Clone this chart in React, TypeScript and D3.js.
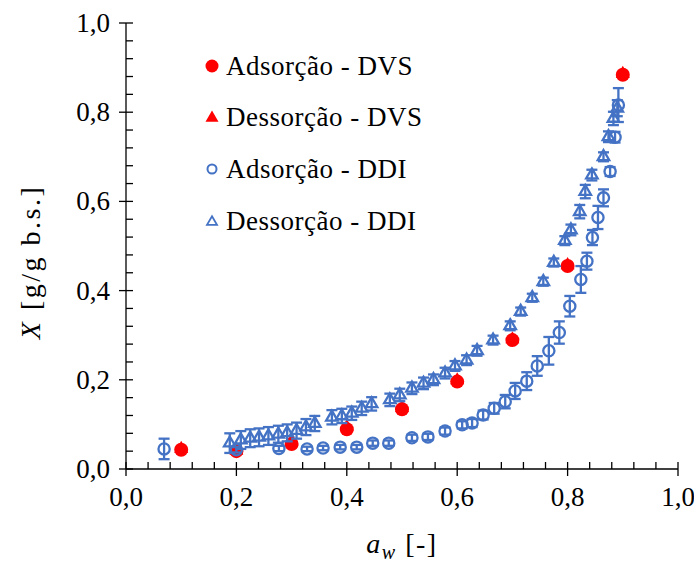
import React from "react";
import * as d3 from "d3";

const dvsAw = [0.1, 0.2, 0.3, 0.4, 0.5, 0.6, 0.7, 0.8, 0.9];
const dvsAdsX = [0.043, 0.040, 0.056, 0.089, 0.134, 0.196, 0.289, 0.455, 0.884];
const dvsDesX = [0.045, 0.041, 0.062, 0.094, 0.137, 0.199, 0.291, 0.457, 0.886];

const ddiAdsAw = [0.069, 0.2, 0.277, 0.328, 0.357, 0.388, 0.418, 0.447, 0.476, 0.518, 0.547, 0.578, 0.609, 0.627, 0.647, 0.667, 0.687, 0.705, 0.726, 0.745, 0.766, 0.785, 0.804, 0.824, 0.835, 0.845, 0.855, 0.865, 0.877, 0.886, 0.892];
const ddiAdsX = [0.045, 0.043, 0.046, 0.045, 0.047, 0.049, 0.049, 0.058, 0.058, 0.070, 0.072, 0.085, 0.099, 0.103, 0.121, 0.136, 0.151, 0.175, 0.197, 0.231, 0.265, 0.306, 0.365, 0.425, 0.466, 0.519, 0.564, 0.608, 0.667, 0.744, 0.816];
const ddiAdsErr = [0.023, 0.006, 0.006, 0.005, 0.005, 0.005, 0.005, 0.006, 0.006, 0.007, 0.007, 0.008, 0.008, 0.009, 0.010, 0.012, 0.015, 0.018, 0.020, 0.022, 0.031, 0.025, 0.023, 0.030, 0.019, 0.017, 0.026, 0.019, 0.010, 0.012, 0.038];

const ddiDesAw = [0.188, 0.208, 0.225, 0.241, 0.258, 0.276, 0.292, 0.309, 0.326, 0.342, 0.373, 0.391, 0.409, 0.427, 0.445, 0.478, 0.496, 0.518, 0.539, 0.557, 0.578, 0.596, 0.617, 0.636, 0.665, 0.696, 0.715, 0.736, 0.756, 0.775, 0.795, 0.806, 0.822, 0.832, 0.844, 0.865, 0.874, 0.883, 0.890];
const ddiDesX = [0.058, 0.065, 0.069, 0.071, 0.074, 0.078, 0.081, 0.086, 0.094, 0.102, 0.116, 0.119, 0.125, 0.136, 0.146, 0.155, 0.166, 0.181, 0.192, 0.200, 0.215, 0.231, 0.244, 0.265, 0.289, 0.321, 0.353, 0.384, 0.420, 0.463, 0.512, 0.536, 0.577, 0.622, 0.659, 0.700, 0.745, 0.786, 0.809];
const ddiDesErr = [0.022, 0.02, 0.02, 0.02, 0.02, 0.019, 0.019, 0.018, 0.018, 0.017, 0.016, 0.016, 0.015, 0.015, 0.015, 0.014, 0.014, 0.013, 0.013, 0.012, 0.012, 0.011, 0.011, 0.011, 0.010, 0.010, 0.009, 0.009, 0.009, 0.009, 0.010, 0.012, 0.015, 0.015, 0.012, 0.010, 0.012, 0.015, 0.018];

const majorTicks = [0, 0.2, 0.4, 0.6, 0.8, 1.0];
const minorTicks = [0.04, 0.08, 0.12, 0.16, 0.24, 0.28, 0.32, 0.36, 0.44, 0.48, 0.52, 0.56, 0.64, 0.68, 0.72, 0.76, 0.84, 0.88, 0.92, 0.96];
const legendLabels = ["Adsorção - DVS", "Dessorção - DVS", "Adsorção - DDI", "Dessorção - DDI"];

const RED = "#FF0000";
const BLUE = "#4472C4";
const FONT = "'Liberation Serif', 'Times New Roman', serif";

function tri(cx: number, cy: number, s: number) {
  const h = (s * Math.sqrt(3)) / 2;
  return `M${cx},${cy - (2 * h) / 3}L${cx + s / 2},${cy + h / 3}L${cx - s / 2},${cy + h / 3}Z`;
}

export default function App() {
  const x = d3.scaleLinear().domain([0, 1]).range([126, 678]);
  const y = d3.scaleLinear().domain([0, 1]).range([469, 23]);
  const fmt = (v: number) => d3.format(".1f")(v).replace(".", ",");
  const legendY = [66, 117, 169, 221];

  return (
    <svg width={694} height={563} style={{ display: "block", position: "absolute", left: 0, top: 0, background: "#fff" }} fontFamily={FONT}>
      {/* axes */}
      <line x1={x(0)} x2={x(1)} y1={y(0)} y2={y(0)} stroke="#000" strokeWidth={1.3} />
      <line x1={x(0)} x2={x(0)} y1={y(0)} y2={y(1)} stroke="#000" strokeWidth={1.3} />
      {majorTicks.map((t) => (
        <g key={"mx" + t}>
          <line x1={x(t)} x2={x(t)} y1={y(0) - 7} y2={y(0) + 7} stroke="#000" strokeWidth={1.3} />
          <text x={x(t)} y={y(0) + 37} textAnchor="middle" fontSize={27}>{fmt(t)}</text>
          <line x1={x(0) - 7} x2={x(0) + 7} y1={y(t)} y2={y(t)} stroke="#000" strokeWidth={1.3} />
          <text x={x(0) - 16} y={y(t) + 9} textAnchor="end" fontSize={27}>{fmt(t)}</text>
        </g>
      ))}
      {minorTicks.map((t) => (
        <g key={"mn" + t}>
          <line x1={x(t)} x2={x(t)} y1={y(0) - 7} y2={y(0)} stroke="#000" strokeWidth={1.3} />
          <line x1={x(0)} x2={x(0) + 7} y1={y(t)} y2={y(t)} stroke="#000" strokeWidth={1.3} />
        </g>
      ))}
      {/* axis titles */}
      <text x={402} y={553} textAnchor="middle" fontSize={28} letterSpacing={1.5}>
        <tspan fontStyle="italic">a</tspan>
        <tspan fontStyle="italic" fontSize={20} dy={6}>w</tspan>
        <tspan dy={-6}> [-]</tspan>
      </text>
      <text transform={`translate(40,262) rotate(-90)`} textAnchor="middle" fontSize={28} letterSpacing={2.5}>
        <tspan fontStyle="italic">X</tspan>
        <tspan> [g/g b.s.]</tspan>
      </text>

      {/* DVS adsorption */}
      {dvsAw.map((a, i) => (
        <circle key={"da" + i} cx={x(a)} cy={y(dvsAdsX[i])} r={7} fill={RED} />
      ))}
      {/* DVS desorption */}
      {dvsAw.map((a, i) => (
        <path key={"dd" + i} d={tri(x(a), y(dvsDesX[i]), 14)} fill={RED} />
      ))}
      {/* DDI adsorption */}
      {ddiAdsAw.map((a, i) => {
        const cx = x(a);
        const y1 = y(ddiAdsX[i] + ddiAdsErr[i]);
        const y2 = y(ddiAdsX[i] - ddiAdsErr[i]);
        return (
          <g key={"ia" + i} stroke={BLUE} strokeWidth={2.3} fill="none">
            <line x1={cx} x2={cx} y1={y1} y2={y2} />
            <line x1={cx - 5.5} x2={cx + 5.5} y1={y1} y2={y1} />
            <line x1={cx - 5.5} x2={cx + 5.5} y1={y2} y2={y2} />
            <circle cx={cx} cy={y(ddiAdsX[i])} r={5.6} />
          </g>
        );
      })}
      {/* DDI desorption */}
      {ddiDesAw.map((a, i) => {
        const cx = x(a);
        const y1 = y(ddiDesX[i] + ddiDesErr[i]);
        const y2 = y(ddiDesX[i] - ddiDesErr[i]);
        return (
          <g key={"id" + i} stroke={BLUE} strokeWidth={2.3} fill="none">
            <line x1={cx} x2={cx} y1={y1} y2={y2} />
            <line x1={cx - 5.5} x2={cx + 5.5} y1={y1} y2={y1} />
            <line x1={cx - 5.5} x2={cx + 5.5} y1={y2} y2={y2} />
            <path d={tri(cx, y(ddiDesX[i]), 11.5)} />
          </g>
        );
      })}

      {/* legend */}
      <circle cx={212} cy={legendY[0]} r={6.5} fill={RED} />
      <path d={tri(212, legendY[1] + 1, 13)} fill={RED} />
      <circle cx={212} cy={legendY[2]} r={4.5} fill="none" stroke={BLUE} strokeWidth={2} />
      <path d={tri(212, legendY[3] + 1, 10)} fill="none" stroke={BLUE} strokeWidth={1.8} />
      {legendLabels.map((l, i) => (
        <text key={l} x={226} y={legendY[i] + 9} fontSize={27} letterSpacing={0.5}>{l}</text>
      ))}
    </svg>
  );
}
